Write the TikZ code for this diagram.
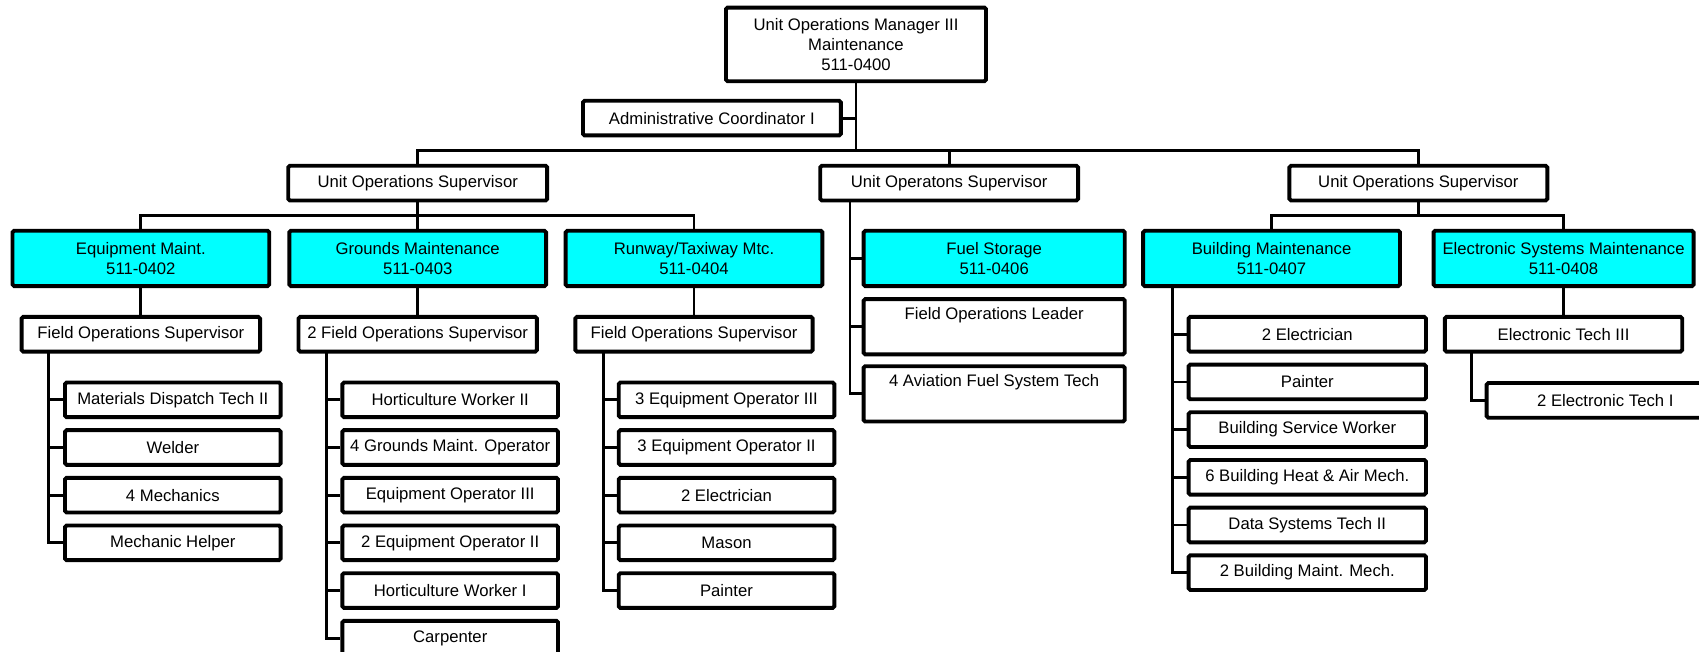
\documentclass[tikz,border=0pt]{standalone}
\usepackage{fontspec}
\setmainfont{Liberation Sans}
\usetikzlibrary{backgrounds}
\definecolor{aqua}{RGB}{0,255,255}
\begin{document}
\begin{tikzpicture}[x=1pt,y=-1pt,
  box/.style={draw=black, line width=3.6pt, fill=white, rounded corners=1.5pt, inner sep=0pt, align=center, minimum height=32pt, font=\fontsize{15.4}{18.5}\selectfont},
  unit/.style={box, fill=aqua, minimum height=51pt},
  tallbox/.style={box, minimum height=51pt},
  conn/.style={draw=black, line width=2.6pt}]
\useasboundingbox (0,0) rectangle (1568,601.7);
\clip (0,0) rectangle (1568,601.7);
% level 0/1
\node[box, minimum width=240pt, minimum height=68pt] (top) at (790,41) {Unit Operations Manager III\\Maintenance\\511-0400};
\node[box, minimum width=238pt] (admin) at (657,109) {Administrative Coordinator I};
\node[box, minimum width=239pt] (supL) at (385.5,169) {Unit Operations Supervisor};
\node[box, minimum width=238pt] (supC) at (876,169) {Unit Operatons Supervisor};
\node[box, minimum width=238pt] (supR) at (1309,169) {Unit Operations Supervisor};
% units
\node[unit, minimum width=237pt] (equip) at (130,238.5) {Equipment Maint.\\511-0402};
\node[unit, minimum width=237pt] (grounds) at (385.5,238.5) {Grounds Maintenance\\511-0403};
\node[unit, minimum width=237pt] (runway) at (640.5,238.5) {Runway/Taxiway Mtc.\\511-0404};
\node[unit, minimum width=241pt] (fuel) at (917.5,238.5) {Fuel Storage\\511-0406};
\node[unit, minimum width=237pt] (build) at (1173.5,238.5) {Building Maintenance\\511-0407};
\node[unit, minimum width=240pt] (esm) at (1443,238.5) {Electronic Systems Maintenance\\511-0408};
% level 3
\node[box, minimum width=220pt] (fos1) at (130,308.5) {Field Operations Supervisor};
\node[box, minimum width=220pt] (fos2) at (385.5,308.5) {2 Field Operations Supervisor};
\node[box, minimum width=219pt] (fos3) at (640.5,308.5) {Field Operations Supervisor};
\node[tallbox, minimum width=241pt] (fol) at (917.5,301.5) {Field Operations Leader\\ \strut};
\node[tallbox, minimum width=241pt] (avi) at (917.5,363.5) {4 Aviation Fuel System Tech\\ \strut};
\node[box, minimum width=219pt] (et3) at (1443,308.5) {Electronic Tech III};
\node[box, minimum width=219pt] (et1) at (1481.5,369.5) {2 Electronic Tech I};
% building maintenance staff
\node[box, minimum width=219pt] (b1) at (1206.5,308.5) {2 Electrician};
\node[box, minimum width=219pt] (b2) at (1206.5,352.5) {Painter};
\node[box, minimum width=219pt] (b3) at (1206.5,396.5) {Building Service Worker};
\node[box, minimum width=219pt] (b4) at (1206.5,440.5) {6 Building Heat \& Air Mech.};
\node[box, minimum width=219pt] (b5) at (1206.5,484.5) {Data Systems Tech II};
\node[box, minimum width=219pt] (b6) at (1206.5,528.5) {2 Building Maint. Mech.};
% equipment maint staff
\node[box, minimum width=199pt] (e1) at (159.5,369) {Materials Dispatch Tech II};
\node[box, minimum width=199pt] (e2) at (159.5,413) {Welder};
\node[box, minimum width=199pt] (e3) at (159.5,457) {4 Mechanics};
\node[box, minimum width=199pt] (e4) at (159.5,501) {Mechanic Helper};
% grounds staff
\node[box, minimum width=199pt] (g1) at (415.5,369) {Horticulture Worker II};
\node[box, minimum width=199pt] (g2) at (415.5,413) {4 Grounds Maint. Operator};
\node[box, minimum width=199pt] (g3) at (415.5,457) {Equipment Operator III};
\node[box, minimum width=199pt] (g4) at (415.5,501) {2 Equipment Operator II};
\node[box, minimum width=199pt] (g5) at (415.5,545) {Horticulture Worker I};
\node[box, minimum width=199pt] (g6) at (415.5,589) {Carpenter};
% runway staff
\node[box, minimum width=199pt] (r1) at (670.5,369) {3 Equipment Operator III};
\node[box, minimum width=199pt] (r2) at (670.5,413) {3 Equipment Operator II};
\node[box, minimum width=199pt] (r3) at (670.5,457) {2 Electrician};
\node[box, minimum width=199pt] (r4) at (670.5,501) {Mason};
\node[box, minimum width=199pt] (r5) at (670.5,545) {Painter};
% junction coordinates
\coordinate (busM) at (790,139);
\coordinate (busL) at (385.5,199);
\coordinate (busR) at (1309,199);
\coordinate (trunkC) at (784.5,185);
\coordinate (trunkE) at (45,325);
\coordinate (trunkG) at (301,325);
\coordinate (trunkR) at (557,325);
\coordinate (trunkB) at (1082,264);
\coordinate (trunkT) at (1358,325);
% connectors
\begin{scope}[on background layer]
\draw[conn] (top.south) -- (busM);
\draw[conn] (admin.east) -- (admin.east -| top.south);
\draw[conn] (supL.north) |- (busM);
\draw[conn] (supC.north) |- (busM);
\draw[conn] (supR.north) |- (busM);
\draw[conn] (supL.south) -- (grounds.north);
\draw[conn] (equip.north) |- (busL);
\draw[conn] (runway.north) |- (busL);
\draw[conn] (supR.south) -- (busR);
\draw[conn] (build.north) |- (busR);
\draw[conn] (esm.north) |- (busR);
\draw[conn] (trunkC) |- (fuel.west);
\draw[conn] (trunkC) |- (fol.west);
\draw[conn] (trunkC) |- (avi.west);
\draw[conn] (equip.south) -- (fos1.north);
\draw[conn] (grounds.south) -- (fos2.north);
\draw[conn] (runway.south) -- (fos3.north);
\draw[conn] (esm.south) -- (et3.north);
\foreach \n in {e1,e2,e3,e4} \draw[conn] (trunkE) |- (\n.west);
\foreach \n in {g1,g2,g3,g4,g5,g6} \draw[conn] (trunkG) |- (\n.west);
\foreach \n in {r1,r2,r3,r4,r5} \draw[conn] (trunkR) |- (\n.west);
\foreach \n in {b1,b2,b3,b4,b5,b6} \draw[conn] (trunkB) |- (\n.west);
\draw[conn] (trunkT) |- (et1.west);
\end{scope}
\end{tikzpicture}
\end{document}
